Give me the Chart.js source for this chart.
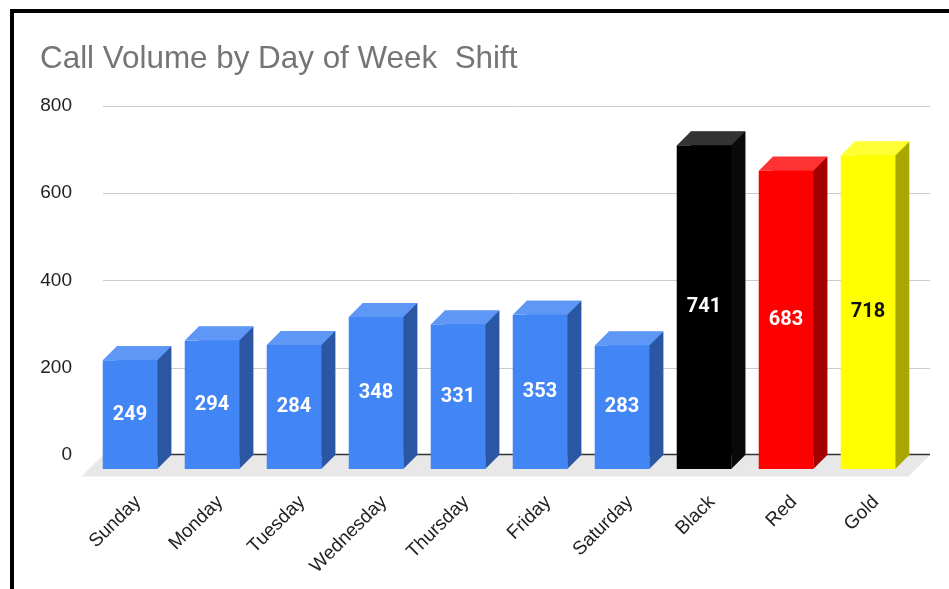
<!DOCTYPE html>
<html>
<head>
<meta charset="utf-8">
<script src="https://cdn.jsdelivr.net/npm/chart.js@4/dist/chart.umd.min.js"></script>
<style>
  html, body { margin: 0; padding: 0; background: #fff; }
  #wrap { position: relative; width: 949px; height: 589px; }
</style>
</head>
<body>
<div id="wrap"><canvas id="c" width="949" height="589" style="width:949px;height:589px"></canvas></div>
<script>
// ---- data ----
const categories = ['Sunday', 'Monday', 'Tuesday', 'Wednesday', 'Thursday', 'Friday', 'Saturday', 'Black', 'Red', 'Gold'];
const callVolume = [249, 294, 284, 348, 331, 353, 283, 741, 683, 718];
const yTicks = [0, 200, 400, 600, 800];
const chartTitle = 'Call Volume by Day of Week  Shift';

// ---- styles ----
const frontColors = ['#4285f4','#4285f4','#4285f4','#4285f4','#4285f4','#4285f4','#4285f4','#000000','#ff0000','#ffff00'];
const topColors   = ['#5e97f6','#5e97f6','#5e97f6','#5e97f6','#5e97f6','#5e97f6','#5e97f6','#333333','#ff3333','#ffff33'];
const sideColors  = ['#2a56a3','#2a56a3','#2a56a3','#2a56a3','#2a56a3','#2a56a3','#2a56a3','#0a0a0a','#a30000','#a8a800'];
const labelColors = ['#ffffff','#ffffff','#ffffff','#ffffff','#ffffff','#ffffff','#ffffff','#ffffff','#ffffff','#111111'];
const DEPTH = 14;
const FLOOR = 21.5;
const EXTRA = 7;

const threeD = {
  id: 'threeD',
  beforeDatasetsDraw(chart) {
    const ctx = chart.ctx, a = chart.chartArea, ys = chart.scales.y;
    ctx.save();
    // gridlines
    yTicks.forEach(v => {
      if (v === 0) return;
      const py = Math.round(ys.getPixelForValue(v)) + 0.5;
      ctx.strokeStyle = '#cccccc';
      ctx.lineWidth = 1;
      ctx.beginPath(); ctx.moveTo(a.left, py); ctx.lineTo(a.right + EXTRA, py); ctx.stroke();
    });
    // floor
    const y0 = ys.getPixelForValue(0);
    ctx.fillStyle = '#e8e8e8';
    ctx.beginPath();
    ctx.moveTo(a.left, y0);
    ctx.lineTo(a.right + EXTRA, y0);
    ctx.lineTo(a.right + EXTRA - FLOOR, y0 + FLOOR);
    ctx.lineTo(a.left - FLOOR, y0 + FLOOR);
    ctx.closePath(); ctx.fill();
    ctx.strokeStyle = '#333333';
    ctx.lineWidth = 1.3;
    ctx.beginPath(); ctx.moveTo(a.left, Math.round(y0) - 0.5); ctx.lineTo(a.right + EXTRA, Math.round(y0) - 0.5); ctx.stroke();
    ctx.restore();
  },
  afterDatasetsDraw(chart) {
    const ctx = chart.ctx;
    const meta = chart.getDatasetMeta(0);
    ctx.save();
    meta.data.forEach((bar, i) => {
      const p = bar.getProps(['x', 'y', 'base', 'width'], true);
      const l = p.x - p.width / 2, r = p.x + p.width / 2, t = p.y, b = p.base, d = DEPTH;
      // side
      ctx.fillStyle = sideColors[i];
      ctx.beginPath();
      ctx.moveTo(r - d, t + d); ctx.lineTo(r, t); ctx.lineTo(r, b); ctx.lineTo(r - d, b + d);
      ctx.closePath(); ctx.fill();
      // top
      ctx.fillStyle = topColors[i];
      ctx.beginPath();
      ctx.moveTo(l - d, t + d); ctx.lineTo(r - d, t + d); ctx.lineTo(r, t); ctx.lineTo(l, t);
      ctx.closePath(); ctx.fill();
      // front
      ctx.fillStyle = frontColors[i];
      ctx.fillRect(l - d, t + d, p.width, b - t);
      // label
      ctx.fillStyle = labelColors[i];
      ctx.font = 'bold 20px Roboto';
      ctx.textAlign = 'center';
      ctx.textBaseline = 'middle';
      ctx.fillText(String(callVolume[i]), p.x - d, (t + b) / 2 + d);
    });
    ctx.restore();
  },
  afterDraw(chart) {
    const ctx = chart.ctx;
    ctx.save();
    ctx.fillStyle = '#000';
    ctx.fillRect(10, 9, chart.width - 10, 4);
    ctx.fillRect(10, 9, 4, chart.height - 9);
    ctx.restore();
  }
};

new Chart(document.getElementById('c'), {
  type: 'bar',
  data: {
    labels: categories,
    datasets: [{
      label: 'Call Volume',
      data: callVolume,
      backgroundColor: frontColors,
      borderWidth: 0,
      barPercentage: 0.665,
      categoryPercentage: 1.0
    }]
  },
  options: {
    responsive: false,
    animation: false,
    devicePixelRatio: 1,
    layout: { padding: { left: 40, right: 26, top: 10, bottom: 0 } },
    plugins: {
      legend: { display: false },
      tooltip: { enabled: false },
      title: {
        display: true,
        text: chartTitle,
        align: 'start',
        color: '#757575',
        font: { family: '"Liberation Sans", Arial, sans-serif', size: 31.4, weight: 'normal' },
        padding: { top: 31, bottom: 27 }
      }
    },
    scales: {
      x: {
        grid: { display: false, drawTicks: false },
        border: { display: false },
        ticks: {
          autoSkip: false,
          maxRotation: 45,
          minRotation: 45,
          padding: 36,
          labelOffset: -6,
          color: '#222222',
          font: { family: '"Liberation Sans", Arial, sans-serif', size: 19 }
        },
        afterFit(s) { s.height = 134; }
      },
      y: {
        min: 0,
        max: 800,
        grid: { display: false, drawTicks: false },
        border: { display: false },
        ticks: {
          stepSize: 200,
          padding: 31,
          color: '#222222',
          font: { family: '"Liberation Sans", Arial, sans-serif', size: 19 }
        },
        afterFit(s) { s.width = 63; }
      }
    }
  },
  plugins: [threeD]
});
</script>
</body>
</html>
